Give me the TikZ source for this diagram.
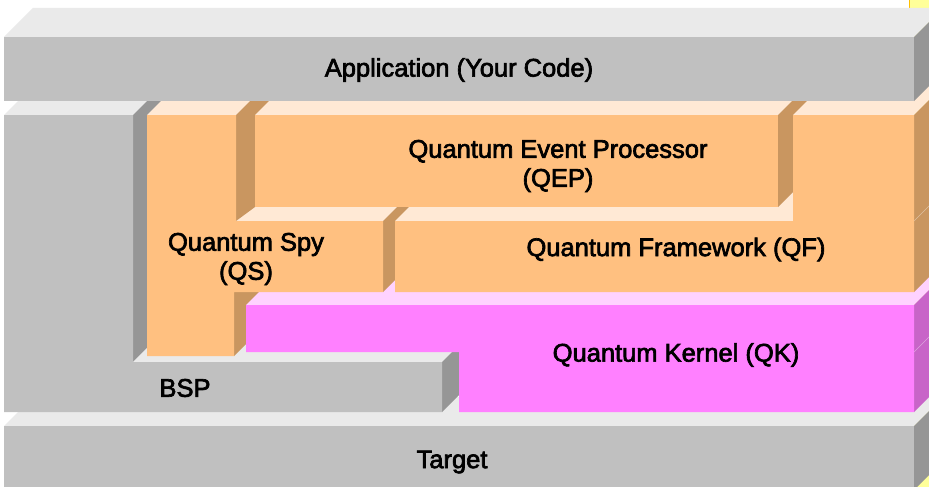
\documentclass[tikz,border=0pt]{standalone}
\usepackage{fontspec}
\setmainfont{Liberation Sans}
\newfontfamily\lblfont{Liberation Sans}[FakeBold=2.6]
\definecolor{gF}{HTML}{C0C0C0}
\definecolor{gT}{HTML}{EAEAEA}
\definecolor{gS}{HTML}{969696}
\definecolor{oF}{HTML}{FFC080}
\definecolor{oT}{HTML}{FFE9D5}
\definecolor{oS}{HTML}{C99660}
\definecolor{pF}{HTML}{FF80FF}
\definecolor{pT}{HTML}{FFD2FF}
\definecolor{pS}{HTML}{C864C8}
\definecolor{yB}{HTML}{FFFF99}
\definecolor{yE}{HTML}{FFC000}
\begin{document}
\begin{tikzpicture}[x=1pt,y=-1pt,
  lbl/.style={font=\lblfont\fontsize{25.5}{29}\selectfont, align=center, inner sep=0pt, text=black},
  oseam/.style={draw=oS!60!white, line width=0.6pt},
  pseam/.style={draw=pS!60!white, line width=0.6pt}]
\useasboundingbox (0,0) rectangle (929,487);
\clip (0,0) rectangle (929,487);
\fill[white] (0,0) rectangle (929,487);
% yellow object behind, at the right edge
\fill[yB] (909,0) rectangle (960,500);
\draw[yE, line width=1.5pt] (909.5,0) -- (909.5,500);
% Target
\fill[gT] (4,426) -- (33,397) -- (943,397) -- (914,426) -- cycle;
\fill[gS] (914,426) -- (943,397) -- (943,461) -- (914,490) -- cycle;
\fill[gF] (4,426) rectangle (914,490);
% BSP
\fill[gT] (4,115) -- (33,86) -- (162,86) -- (133,115) -- cycle;
\fill[gS] (133,115) -- (162,86) -- (162,333) -- (133,362) -- cycle;
\fill[gT] (133,362) -- (162,333) -- (471,333) -- (442,362) -- cycle;
\fill[gS] (442,362) -- (471,333) -- (471,383) -- (442,412) -- cycle;
\fill[gF] (4,115) -- (133,115) -- (133,362) -- (442,362) -- (442,412) -- (4,412) -- cycle;
% Quantum Spy: side of the lower column
\fill[oS] (234,292) -- (263,263) -- (263,327) -- (234,356) -- cycle;
% Quantum Kernel
\fill[pT] (246,305) -- (275,276) -- (943,276) -- (914,305) -- cycle;
\fill[pS] (914,305) -- (943,276) -- (943,383) -- (914,412) -- cycle;
\draw[pseam] (914,352) -- (943,323);
\fill[pF] (246,305) -- (914,305) -- (914,412) -- (459,412) -- (459,352) -- (246,352) -- cycle;
% Quantum Spy
\fill[oT] (147,115) -- (176,86) -- (265,86) -- (236,115) -- cycle;
\fill[oT] (236,221) -- (265,192) -- (412,192) -- (383,221) -- cycle;
\fill[oS] (383,221) -- (412,192) -- (412,263) -- (383,292) -- cycle;
\fill[oS] (236,221) -- (236,115) -- (250,101) -- (272,101) -- (272,200) -- (255,207) -- cycle;
\fill[oF] (147,115) -- (236,115) -- (236,221) -- (383,221) -- (383,292) -- (234,292) -- (234,356) -- (147,356) -- cycle;
% Quantum Framework: top of the bar
\fill[oT] (395,221) -- (424,192) -- (822,192) -- (793,221) -- cycle;
% Quantum Event Processor
\fill[oT] (255,115) -- (284,86) -- (807,86) -- (778,115) -- cycle;
\fill[oS] (778,115) -- (807,86) -- (807,178) -- (778,207) -- cycle;
\fill[oF] (255,115) rectangle (778,207);
% Quantum Framework
\fill[oT] (793,115) -- (822,86) -- (943,86) -- (914,115) -- cycle;
\fill[oS] (914,115) -- (943,86) -- (943,263) -- (914,292) -- cycle;
\draw[oseam] (914,221) -- (943,192);
\fill[oF] (395,221) -- (793,221) -- (793,115) -- (914,115) -- (914,292) -- (395,292) -- cycle;
% Application
\fill[gT] (4,37) -- (33,8) -- (943,8) -- (914,37) -- cycle;
\fill[gS] (914,37) -- (943,8) -- (943,72) -- (914,101) -- cycle;
\fill[gF] (4,37) rectangle (914,101);
% labels
\node[lbl] (app) at (459,70) {Application (Your Code)};
\node[lbl] (qep) at (558,166) {Quantum Event Processor\\(QEP)};
\node[lbl] (qs) at (246,259) {Quantum Spy\\(QS)};
\node[lbl] (qf) at (676,249.5) {Quantum Framework (QF)};
\node[lbl] (qk) at (676,355) {Quantum Kernel (QK)};
\node[lbl] (bsp) at (185,388) {BSP};
\node[lbl] (target) at (452,462) {Target};
\end{tikzpicture}
\end{document}
